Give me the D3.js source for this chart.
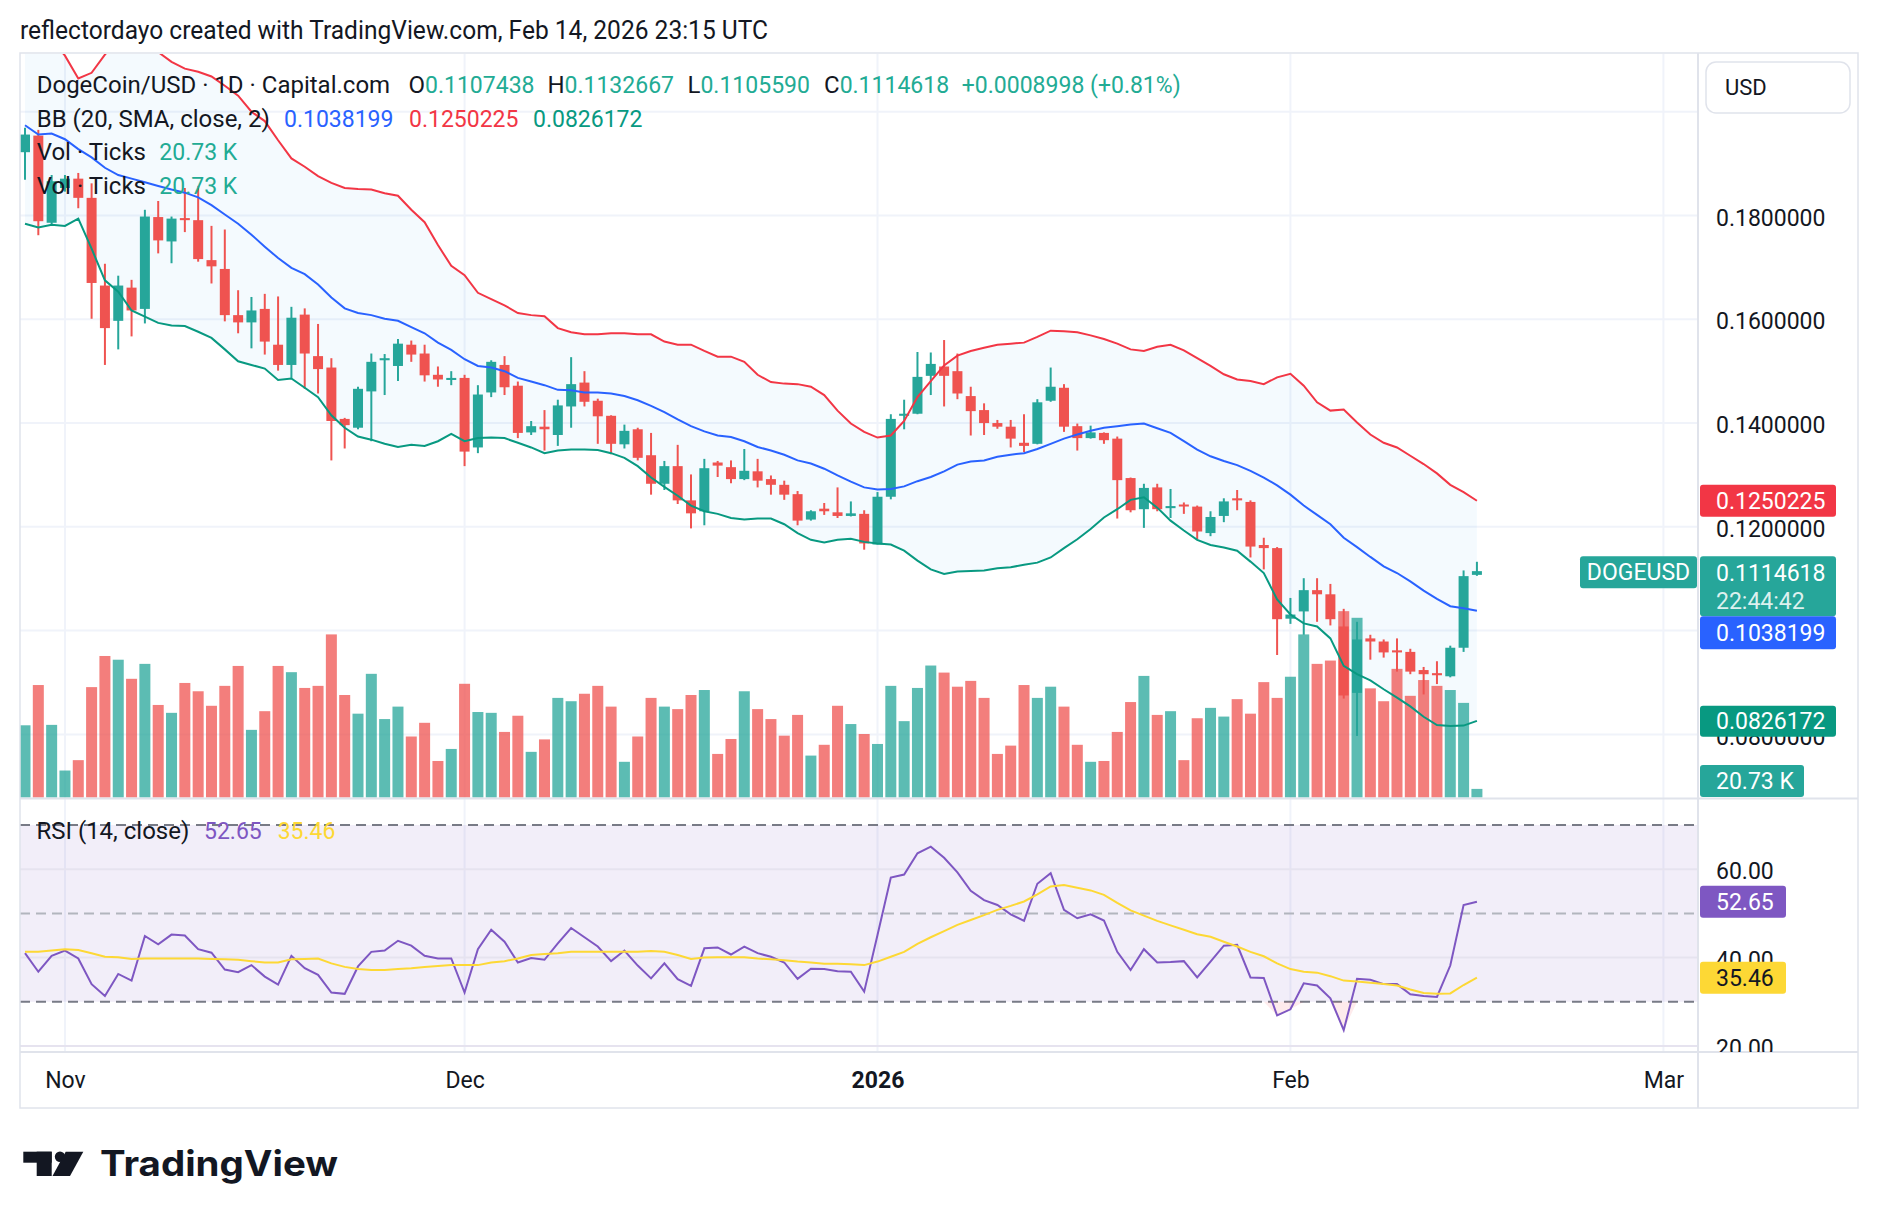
<!DOCTYPE html>
<html><head><meta charset="utf-8">
<script src="https://cdn.jsdelivr.net/npm/d3@7"></script>
<style>
html,body{margin:0;padding:0;background:#fff;}
svg{display:block;font-family:Roboto,"Noto Sans",sans-serif;}
</style></head><body>
<svg id="chart" width="1878" height="1228"></svg>
<script>
// ---------- DATA ----------
const firstDay = "2025-10-29";
const lastDay = "2026-02-15";
const open = [0.1922,0.1954,0.1786,0.1853,0.1871,0.1834,0.1665,0.1597,0.1661,0.1620,
 0.1797,0.1750,0.1795,0.1791,0.1714,0.1697,0.1608,0.1594,0.1620,0.1551,
 0.1512,0.1609,0.1529,0.1507,0.1408,0.1391,0.1461,0.1521,0.1510,0.1551,
 0.1534,0.1493,0.1483,0.1487,0.1353,0.1459,0.1512,0.1472,0.1382,0.1393,
 0.1377,0.1432,0.1478,0.1443,0.1414,0.1359,0.1388,0.1338,0.1283,0.1317,
 0.1251,0.1230,0.1324,0.1315,0.1292,0.1307,0.1292,0.1281,0.1263,0.1214,
 0.1235,0.1228,0.1221,0.1225,0.1166,0.1258,0.1414,0.1418,0.1491,0.1509,
 0.1500,0.1452,0.1425,0.1400,0.1393,0.1362,0.1360,0.1443,0.1468,0.1394,
 0.1371,0.1381,0.1370,0.1294,0.1234,0.1276,0.1236,0.1243,0.1239,0.1188,
 0.1221,0.1255,0.1248,0.1165,0.1159,0.1023,0.1037,0.1078,0.1070,0.1008,
 0.0880,0.0985,0.0979,0.0962,0.0959,0.0924,0.0918,0.0912,0.0967,0.1107438];
const high = [0.1969,0.1965,0.1878,0.1878,0.1882,0.1862,0.1707,0.1684,0.1676,0.1811,
 0.1828,0.1798,0.1853,0.1857,0.1780,0.1773,0.1656,0.1643,0.1649,0.1644,
 0.1624,0.1621,0.1591,0.1525,0.1410,0.1470,0.1534,0.1533,0.1562,0.1559,
 0.1551,0.1509,0.1500,0.1493,0.1473,0.1521,0.1529,0.1480,0.1404,0.1425,
 0.1445,0.1527,0.1500,0.1447,0.1415,0.1397,0.1391,0.1381,0.1327,0.1358,
 0.1301,0.1331,0.1327,0.1328,0.1350,0.1331,0.1299,0.1289,0.1269,0.1232,
 0.1246,0.1276,0.1249,0.1232,0.1267,0.1417,0.1445,0.1537,0.1536,0.1560,
 0.1534,0.1470,0.1438,0.1406,0.1406,0.1417,0.1446,0.1507,0.1475,0.1399,
 0.1395,0.1382,0.1374,0.1295,0.1283,0.1283,0.1273,0.1247,0.1241,0.1230,
 0.1255,0.1271,0.1251,0.1179,0.1161,0.1063,0.1101,0.1101,0.1090,0.1042,
 0.1017,0.0992,0.0983,0.0985,0.0965,0.0930,0.0941,0.0971,0.1116,0.1132667];
const low = [0.1869,0.1762,0.1780,0.1846,0.1814,0.1601,0.1512,0.1542,0.1567,0.1592,
 0.1727,0.1708,0.1768,0.1711,0.1669,0.1596,0.1573,0.1544,0.1532,0.1501,
 0.1487,0.1466,0.1457,0.1328,0.1351,0.1388,0.1365,0.1454,0.1481,0.1518,
 0.1480,0.1470,0.1473,0.1317,0.1342,0.1450,0.1454,0.1371,0.1377,0.1347,
 0.1356,0.1391,0.1432,0.1360,0.1340,0.1351,0.1328,0.1262,0.1271,0.1244,
 0.1197,0.1203,0.1296,0.1284,0.1290,0.1276,0.1262,0.1252,0.1203,0.1212,
 0.1223,0.1217,0.1220,0.1156,0.1166,0.1253,0.1388,0.1417,0.1454,0.1432,
 0.1446,0.1376,0.1377,0.1389,0.1353,0.1344,0.1359,0.1441,0.1383,0.1347,
 0.1370,0.1360,0.1216,0.1228,0.1198,0.1230,0.1217,0.1225,0.1176,0.1182,
 0.1209,0.1232,0.1141,0.1118,0.0953,0.1013,0.0992,0.1017,0.1010,0.0869,
 0.0797,0.0944,0.0948,0.0921,0.0916,0.0877,0.0897,0.0910,0.0959,0.1105590];
const close = [0.1956,0.1789,0.1866,0.1871,0.1834,0.1670,0.1583,0.1665,0.1617,0.1798,
 0.1752,0.1794,0.1791,0.1716,0.1702,0.1608,0.1594,0.1617,0.1557,0.1512,
 0.1603,0.1534,0.1504,0.1404,0.1396,0.1466,0.1518,0.1525,0.1553,0.1532,
 0.1492,0.1484,0.1487,0.1345,0.1455,0.1518,0.1469,0.1381,0.1394,0.1388,
 0.1434,0.1475,0.1441,0.1413,0.1360,0.1385,0.1333,0.1283,0.1317,0.1251,
 0.1226,0.1313,0.1318,0.1292,0.1308,0.1289,0.1281,0.1262,0.1212,0.1230,
 0.1230,0.1221,0.1226,0.1168,0.1258,0.1408,0.1418,0.1489,0.1514,0.1491,
 0.1457,0.1423,0.1400,0.1393,0.1370,0.1356,0.1440,0.1470,0.1393,0.1371,
 0.1382,0.1367,0.1290,0.1232,0.1275,0.1234,0.1240,0.1240,0.1191,0.1219,
 0.1249,0.1251,0.1162,0.1159,0.1022,0.1031,0.1078,0.1070,0.1022,0.0875,
 0.0983,0.0979,0.0958,0.0958,0.0921,0.0916,0.0914,0.0967,0.1105,0.1114618];
// volume in thousands of ticks
const volume = [174,271,175,65,90,266,341,332,286,322,
 223,204,276,256,221,269,317,163,208,317,
 302,264,269,393,247,202,298,189,219,147,
 180,88,117,274,206,204,158,197,110,140,
 240,232,250,269,219,86,147,240,219,213,
 247,259,105,141,256,213,189,149,199,101,
 127,221,177,153,129,269,184,264,318,301,
 267,281,240,105,125,271,240,267,219,127,
 86,88,158,230,293,199,208,90,191,216,
 195,237,202,278,240,291,393,322,330,449,
 433,263,232,310,245,283,269,259,228,20.73];
const bbUpper = [0.2220,0.2180,0.2140,0.2108,0.2064,0.2075,0.2110,0.2140,0.2160,0.2150,
 0.2115,0.2096,0.2083,0.2077,0.2068,0.2050,0.2031,0.2000,0.1982,0.1945,
 0.1910,0.1894,0.1876,0.1863,0.1853,0.1851,0.1850,0.1843,0.1838,0.1811,
 0.1787,0.1743,0.1703,0.1685,0.1651,0.1639,0.1627,0.1612,0.1608,0.1606,
 0.1583,0.1575,0.1571,0.1571,0.1573,0.1573,0.1571,0.1571,0.1557,0.1551,
 0.1551,0.1539,0.1528,0.1528,0.1518,0.1493,0.1479,0.1476,0.1475,0.1470,
 0.1454,0.1424,0.1399,0.1383,0.1372,0.1376,0.1404,0.1450,0.1481,0.1511,
 0.1530,0.1539,0.1545,0.1551,0.1553,0.1555,0.1566,0.1578,0.1577,0.1575,
 0.1569,0.1562,0.1553,0.1542,0.1539,0.1547,0.1551,0.1540,0.1525,0.1510,
 0.1494,0.1484,0.1481,0.1475,0.1488,0.1495,0.1472,0.1440,0.1424,0.1426,
 0.1401,0.1378,0.1362,0.1353,0.1337,0.1321,0.1303,0.1281,0.1267,0.1250225];
const bbMiddle = [0.1974,0.1956,0.1958,0.1947,0.1928,0.1912,0.1892,0.1878,0.1871,0.1864,
 0.1857,0.1850,0.1844,0.1835,0.1820,0.1802,0.1784,0.1763,0.1740,0.1718,
 0.1699,0.1687,0.1667,0.1642,0.1621,0.1612,0.1608,0.1601,0.1597,0.1585,
 0.1573,0.1555,0.1541,0.1523,0.1510,0.1507,0.1500,0.1487,0.1480,0.1473,
 0.1464,0.1463,0.1459,0.1459,0.1457,0.1452,0.1444,0.1433,0.1421,0.1407,
 0.1394,0.1384,0.1376,0.1373,0.1365,0.1354,0.1347,0.1339,0.1328,0.1322,
 0.1312,0.1299,0.1287,0.1276,0.1272,0.1273,0.1278,0.1288,0.1296,0.1307,
 0.1320,0.1326,0.1328,0.1335,0.1339,0.1342,0.1350,0.1360,0.1370,0.1378,
 0.1385,0.1391,0.1394,0.1397,0.1399,0.1390,0.1381,0.1365,0.1349,0.1336,
 0.1327,0.1319,0.1308,0.1295,0.1280,0.1262,0.1241,0.1223,0.1205,0.1179,
 0.1161,0.1142,0.1124,0.1111,0.1095,0.1077,0.1061,0.1047,0.1043,0.1038199];
const bbLower = [0.1784,0.1777,0.1782,0.1780,0.1794,0.1736,0.1675,0.1653,0.1617,0.1605,
 0.1593,0.1588,0.1587,0.1576,0.1564,0.1542,0.1519,0.1512,0.1505,0.1483,
 0.1486,0.1468,0.1450,0.1415,0.1391,0.1374,0.1368,0.1360,0.1354,0.1358,
 0.1356,0.1365,0.1379,0.1365,0.1371,0.1372,0.1371,0.1362,0.1353,0.1342,
 0.1347,0.1349,0.1349,0.1348,0.1342,0.1333,0.1317,0.1295,0.1277,0.1260,
 0.1241,0.1230,0.1225,0.1217,0.1214,0.1216,0.1216,0.1205,0.1188,0.1175,
 0.1170,0.1175,0.1177,0.1171,0.1168,0.1166,0.1154,0.1135,0.1118,0.1109,
 0.1114,0.1115,0.1116,0.1120,0.1122,0.1127,0.1131,0.1141,0.1159,0.1176,
 0.1196,0.1218,0.1234,0.1252,0.1257,0.1237,0.1212,0.1193,0.1175,0.1165,
 0.1160,0.1154,0.1133,0.1111,0.1060,0.1031,0.1014,0.1008,0.0985,0.0932,
 0.0916,0.0904,0.0887,0.0871,0.0854,0.0834,0.0818,0.0816,0.0817,0.0826172];
const rsi = [41.0,36.8,40.4,41.6,39.8,34.0,31.3,36.3,34.8,44.9,
 43.0,45.2,45.0,41.9,41.1,37.3,36.7,38.3,35.7,33.9,
 40.4,37.6,36.1,32.1,31.8,38.0,41.3,41.6,43.8,42.7,
 40.4,39.8,39.8,32.1,41.9,46.3,43.6,38.9,39.9,39.5,
 43.2,46.7,44.6,42.5,39.2,41.6,38.2,35.3,38.7,35.1,
 33.6,42.1,42.3,40.7,42.5,41.0,40.2,38.9,35.2,37.5,
 37.4,36.9,36.8,32.3,45.1,58.1,58.8,63.6,65.1,62.6,
 59.3,55.1,53.0,51.9,49.8,48.3,56.7,59.1,50.8,48.9,
 49.8,48.4,41.3,37.2,41.9,38.9,39.0,39.2,35.5,39.1,
 42.7,42.9,35.5,35.4,26.9,28.3,34.2,33.7,30.8,23.6,
 35.2,35.0,34.0,34.0,31.7,31.3,31.1,38.2,51.9,52.65];
const rsiMA = [41.3,41.3,41.6,41.9,41.7,41.0,40.2,40.1,39.7,39.8,
 39.8,39.8,39.8,39.8,39.7,39.6,39.5,39.2,38.9,38.9,
 39.6,39.7,39.8,38.7,37.9,37.4,37.2,37.2,37.4,37.6,
 37.9,38.1,38.3,38.3,38.3,38.9,39.2,39.8,40.6,40.8,
 41.0,41.3,41.3,41.3,41.3,41.3,41.3,41.5,41.3,40.6,
 39.7,40.0,40.1,40.1,40.1,39.8,39.6,39.4,39.1,38.9,
 38.6,38.6,38.5,38.3,39.1,40.2,41.3,43.1,44.6,46.0,
 47.4,48.5,49.6,50.8,51.7,52.7,54.3,56.1,56.4,55.8,
 55.2,54.2,52.4,50.7,49.5,48.3,47.3,46.3,45.3,44.7,
 43.6,42.5,41.3,40.3,38.7,37.4,36.8,36.6,35.8,34.8,
 34.6,34.3,34.0,33.7,32.8,32.0,31.8,31.9,33.8,35.46];
const priceTicks = [0.08,0.10,0.12,0.14,0.16,0.18];
const priceGrid = [0.08,0.10,0.12,0.14,0.16,0.18,0.20];
const rsiTicks = [20,40,60];
const timeTicks = ["2025-11-01","2025-12-01","2026-01-01","2026-02-01","2026-03-01"];
const timeLabels = ["Nov","Dec","2026","Feb","Mar"];

// ---------- SETUP ----------
const TXT = "#131722", UP = "#26a69a", DOWN = "#ef5350";
const svg = d3.select("#chart");
const parse = d3.utcParse("%Y-%m-%d");
const dates = d3.utcDay.range(parse(firstDay), d3.utcDay.offset(parse(lastDay), 1));
const data = dates.map((d, i) => ({date: d, o: open[i], h: high[i], l: low[i], c: close[i], v: volume[i],
  up: close[i] >= open[i], bu: bbUpper[i], bm: bbMiddle[i], bl: bbLower[i], r: rsi[i], rm: rsiMA[i]}));

const x = d3.scaleUtc().domain([parse("2025-10-29"), parse("2026-03-01")]).range([25, 1663.4]);
const y = d3.scaleLinear().domain([0.08, 0.18]).range([734.4, 215.5]);
const vy = d3.scaleLinear().domain([0, 1000]).range([797.5, 382.5]);
const ry = d3.scaleLinear().domain([30, 70]).range([1001.8, 825]);

const defs = svg.append("defs");
function clip(id, x0, y0, w, h) { defs.append("clipPath").attr("id", id).append("rect").attr("x", x0).attr("y", y0).attr("width", w).attr("height", h); }
clip("cPrice", 20, 54, 1678, 744);
clip("cRsi", 20, 799, 1678, 253);
clip("cPAxis", 1698, 54, 160, 744);
clip("cRAxis", 1698, 799, 160, 253);

svg.append("rect").attr("width", 1878).attr("height", 1228).attr("fill", "#fff");

// header
svg.append("text").attr("x", 20).attr("y", 39).attr("font-size", 25).attr("fill", TXT)
  .attr("textLength", 748).attr("lengthAdjust", "spacingAndGlyphs")
  .text("reflectordayo created with TradingView.com, Feb 14, 2026 23:15 UTC");

// grid
const grid = svg.append("g");
grid.selectAll("line.h").data(priceGrid).join("line")
  .attr("x1", 20).attr("x2", 1698).attr("y1", d => y(d)).attr("y2", d => y(d))
  .attr("stroke", "#f0f3fa").attr("stroke-width", 2);
grid.selectAll("line.v").data(timeTicks.map(parse)).join("line")
  .attr("x1", d => x(d)).attr("x2", d => x(d)).attr("y1", 54).attr("y2", 1052)
  .attr("stroke", "#f0f3fa").attr("stroke-width", 2);

// RSI band
const rsiG = svg.append("g").attr("clip-path", "url(#cRsi)");
rsiG.append("rect").attr("x", 20).attr("width", 1678).attr("y", ry(70)).attr("height", ry(30) - ry(70))
  .attr("fill", "rgba(126,87,194,0.1)");
rsiG.selectAll("line.rg").data(rsiTicks).join("line")
  .attr("x1", 20).attr("x2", 1698).attr("y1", d => ry(d)).attr("y2", d => ry(d))
  .attr("stroke", "#e6e3ef").attr("stroke-width", 2);
rsiG.selectAll("line.rd").data([70, 50, 30]).join("line")
  .attr("x1", 20).attr("x2", 1698).attr("y1", d => ry(d)).attr("y2", d => ry(d))
  .attr("stroke", d => d === 50 ? "#b2b5be" : "#787b86").attr("stroke-width", 2)
  .attr("stroke-dasharray", "10,6");

// price pane
const pG = svg.append("g").attr("clip-path", "url(#cPrice)");
pG.append("path").datum(data)
  .attr("d", d3.area().x(d => x(d.date)).y0(d => y(d.bl)).y1(d => y(d.bu)))
  .attr("fill", "rgba(33,150,243,0.05)");
pG.selectAll("line.wick").data(data).join("line")
  .attr("x1", d => x(d.date)).attr("x2", d => x(d.date))
  .attr("y1", d => y(d.h)).attr("y2", d => y(d.l))
  .attr("stroke", d => d.up ? UP : DOWN).attr("stroke-width", 2);
pG.selectAll("rect.body").data(data).join("rect")
  .attr("x", d => x(d.date) - 5).attr("width", 10)
  .attr("y", d => y(Math.max(d.o, d.c)))
  .attr("height", d => Math.max(2, Math.abs(y(d.o) - y(d.c))))
  .attr("fill", d => d.up ? UP : DOWN);
pG.selectAll("rect.vol").data(data).join("rect")
  .attr("x", d => x(d.date) - 5.5).attr("width", 11)
  .attr("y", d => vy(d.v)).attr("height", d => vy(0) - vy(d.v))
  .attr("fill", d => d.up ? "rgba(38,166,154,0.75)" : "rgba(239,83,80,0.75)");
const bbLine = key => d3.line().x(d => x(d.date)).y(d => y(d[key]));
pG.append("path").datum(data).attr("d", bbLine("bu")).attr("fill", "none").attr("stroke", "#f23645").attr("stroke-width", 2);
pG.append("path").datum(data).attr("d", bbLine("bm")).attr("fill", "none").attr("stroke", "#2962ff").attr("stroke-width", 2);
pG.append("path").datum(data).attr("d", bbLine("bl")).attr("fill", "none").attr("stroke", "#089981").attr("stroke-width", 2);

// RSI lines
rsiG.append("path").datum(data)
  .attr("d", d3.area().x(d => x(d.date)).y0(ry(30)).y1(d => ry(Math.min(d.r, 30))))
  .attr("fill", "rgba(242,54,69,0.1)");
rsiG.append("path").datum(data).attr("d", d3.line().x(d => x(d.date)).y(d => ry(d.r)))
  .attr("fill", "none").attr("stroke", "#7e57c2").attr("stroke-width", 2);
rsiG.append("path").datum(data).attr("d", d3.line().x(d => x(d.date)).y(d => ry(d.rm)))
  .attr("fill", "none").attr("stroke", "#fdd835").attr("stroke-width", 2);

// separators / frame
const frame = svg.append("g").attr("stroke", "#e0e3eb").attr("fill", "none");
frame.append("rect").attr("x", 20).attr("y", 53).attr("width", 1838).attr("height", 1055).attr("stroke-width", 1.5);
frame.append("line").attr("x1", 20).attr("x2", 1858).attr("y1", 798.5).attr("y2", 798.5).attr("stroke-width", 2);
frame.append("line").attr("x1", 20).attr("x2", 1858).attr("y1", 1052).attr("y2", 1052).attr("stroke-width", 2);
frame.append("line").attr("x1", 1698).attr("x2", 1698).attr("y1", 53).attr("y2", 1108).attr("stroke-width", 2);

// price axis
const pAxis = svg.append("g").attr("clip-path", "url(#cPAxis)").append("g").attr("transform", "translate(1698,0)")
  .call(d3.axisRight(y).tickValues(priceTicks).tickFormat(d3.format(".7f")).tickSize(0).tickPadding(18));
pAxis.select(".domain").remove();
pAxis.selectAll("text").attr("font-size", 23).attr("fill", TXT).attr("font-family", "Roboto").attr("dy", "0.42em");

// rsi axis
const rAxis = svg.append("g").attr("clip-path", "url(#cRAxis)").append("g").attr("transform", "translate(1698,0)")
  .call(d3.axisRight(ry).tickValues(rsiTicks).tickFormat(d3.format(".2f")).tickSize(0).tickPadding(18));
rAxis.select(".domain").remove();
rAxis.selectAll("text").attr("font-size", 23).attr("fill", TXT).attr("font-family", "Roboto").attr("dy", "0.42em");

// time axis
const tAxis = svg.append("g").attr("transform", "translate(0,1052)")
  .call(d3.axisBottom(x).tickValues(timeTicks.map(parse)).tickFormat((d, i) => timeLabels[i]).tickSize(0).tickPadding(20));
tAxis.select(".domain").remove();
tAxis.selectAll("text").attr("font-size", 23).attr("fill", TXT).attr("font-family", "Roboto")
  .attr("font-weight", (d, i) => timeLabels[i] === "2026" ? 700 : 400);

// USD button
svg.append("rect").attr("x", 1706).attr("y", 62).attr("width", 144).attr("height", 51).attr("rx", 10)
  .attr("fill", "#fff").attr("stroke", "#e0e3eb").attr("stroke-width", 1.5);
svg.append("text").attr("x", 1725).attr("y", 95).attr("font-size", 22).attr("fill", TXT).text("USD");

// axis value labels
function box(x0, yTop, w, h, fill) {
  svg.append("rect").attr("x", x0).attr("y", yTop).attr("width", w).attr("height", h).attr("rx", 3).attr("fill", fill);
}
function label(x0, yc, t, fill, op) {
  svg.append("text").attr("x", x0).attr("y", yc).attr("dy", "0.35em").attr("font-size", 23)
    .attr("fill", fill).attr("fill-opacity", op || 1).text(t);
}
const lastUpper = bbUpper[bbUpper.length - 1], lastMid = bbMiddle[bbMiddle.length - 1], lastLow = bbLower[bbLower.length - 1];
const lastClose = close[close.length - 1], lastVol = volume[volume.length - 1];
const lastRsi = rsi[rsi.length - 1], lastRsiMA = rsiMA[rsiMA.length - 1];
const f7 = d3.format(".7f"), f2 = d3.format(".2f");

box(1700, y(lastUpper) - 16, 136, 32, "#f23645"); label(1716, y(lastUpper), f7(lastUpper), "#fff");
box(1700, y(lastClose) - 15, 136, 60, UP);
label(1716, y(lastClose) + 1.5, f7(lastClose), "#fff");
label(1716, y(lastClose) + 30, "22:44:42", "#fff", 0.85);
box(1580, y(lastClose) - 15, 117, 32, UP);
svg.append("text").attr("x", 1638.5).attr("y", y(lastClose) + 1).attr("dy", "0.35em").attr("text-anchor", "middle")
  .attr("font-size", 23).attr("fill", "#fff").text("DOGEUSD");
box(1700, y(lastClose) + 45, 136, 33, "#2962ff"); label(1716, y(lastClose) + 61.5, f7(lastMid), "#fff");
box(1700, y(lastLow) - 15, 136, 31, "#089981"); label(1716, y(lastLow), f7(lastLow), "#fff");
box(1700, vy(lastVol) - 24, 104, 32, UP); label(1716, vy(lastVol) - 8, d3.format(".2f")(lastVol) + " K", "#fff");
box(1700, ry(lastRsi) - 16, 86, 32, "#7e57c2"); label(1716, ry(lastRsi), f2(lastRsi), "#fff");
box(1700, ry(lastRsiMA) - 16, 86, 32, "#fdd835"); label(1716, ry(lastRsiMA), f2(lastRsiMA), TXT);

// legend (labels 24px, values 23px)
function legendLine(yb, parts) {
  const t = svg.append("text").attr("y", yb).attr("font-size", 24);
  parts.forEach(p => {
    const s = t.append("tspan").attr("fill", p.c).text(p.t);
    if (p.c !== TXT) s.attr("font-size", 23);
    if (p.x !== undefined) s.attr("x", p.x);
  });
}
const VAL = "#22ab94";
legendLine(93, [
  {x: 36.7, t: "DogeCoin/USD · 1D · Capital.com", c: TXT},
  {x: 408.5, t: "O", c: TXT}, {t: f7(open[open.length - 1]), c: VAL},
  {x: 547.4, t: "H", c: TXT}, {t: f7(high[high.length - 1]), c: VAL},
  {x: 687.5, t: "L", c: TXT}, {t: f7(low[low.length - 1]), c: VAL},
  {x: 824, t: "C", c: TXT}, {t: f7(lastClose), c: VAL},
  {x: 961.8, t: "+0.0008998 (+0.81%)", c: VAL}
]);
legendLine(126.6, [
  {x: 36.7, t: "BB (20, SMA, close, 2)", c: TXT},
  {x: 284, t: f7(lastMid), c: "#2962ff"},
  {x: 409, t: f7(lastUpper), c: "#f23645"},
  {x: 533, t: f7(lastLow), c: "#089981"}
]);
[160, 193.6].forEach(yb => legendLine(yb, [
  {x: 36.7, t: "Vol · Ticks", c: TXT},
  {x: 159.3, t: d3.format(".2f")(lastVol) + " K", c: VAL}
]));
legendLine(839, [
  {x: 36.4, t: "RSI (14, close)", c: TXT},
  {x: 204, t: f2(lastRsi), c: "#7e57c2"},
  {x: 277.7, t: f2(lastRsiMA), c: "#fdd835"}
]);

// TradingView logo
const logo = svg.append("g").attr("fill", TXT);
logo.append("rect").attr("x", 23.3).attr("y", 1151.7).attr("width", 28.4).attr("height", 11);
logo.append("rect").attr("x", 36.7).attr("y", 1151.7).attr("width", 15).attr("height", 24.3);
logo.append("circle").attr("cx", 60).attr("cy", 1156.8).attr("r", 5.2);
logo.append("polygon").attr("points", "65.7,1151.7 83.3,1151.7 70,1176 52.5,1176");
logo.append("text").attr("x", 100).attr("y", 1176).attr("font-size", 35).attr("font-weight", 700)
  .attr("font-family", "Inter, Roboto, sans-serif").attr("textLength", 238).attr("lengthAdjust", "spacingAndGlyphs")
  .text("TradingView");
</script>
</body></html>
